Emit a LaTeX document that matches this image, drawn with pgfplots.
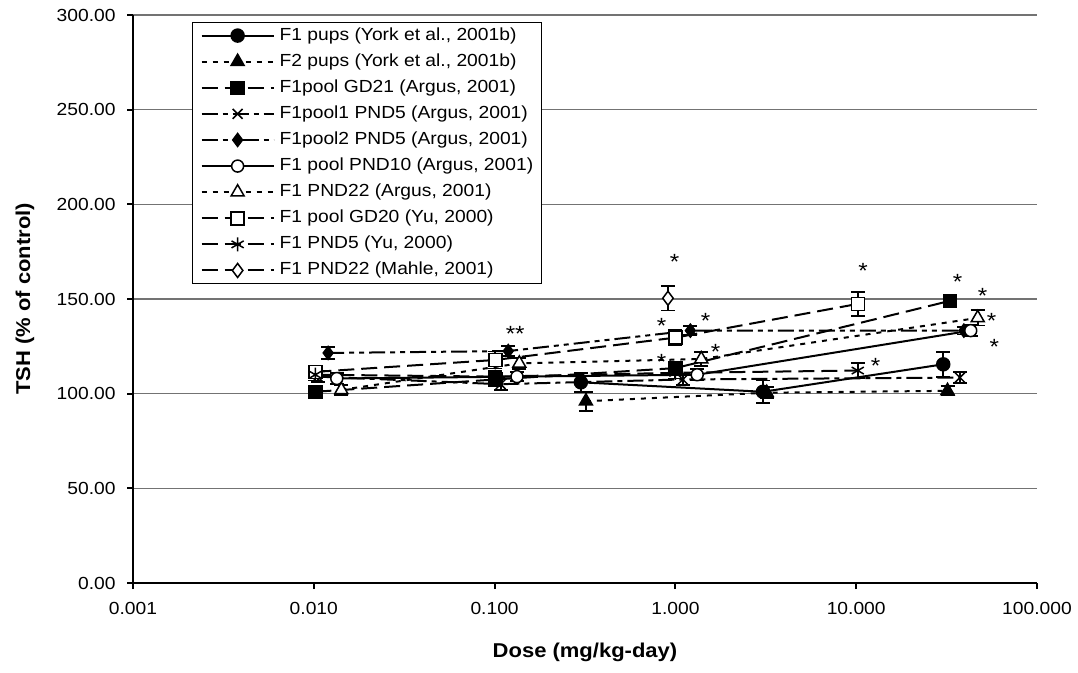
\documentclass[border=0pt]{standalone}
\usepackage{fontspec}
\setmainfont{Liberation Sans}[FakeStretch=1.1]
\usepackage{pgfplots}
\pgfplotsset{compat=1.18}
\newcommand\tfont{\fontsize{17.5bp}{20bp}\selectfont}
\newcommand\sfont{\fontsize{22bp}{24bp}\selectfont}
\newcommand\lfont{\fontsize{20bp}{24bp}\selectfont\bfseries}
\pgfplotsset{
  ser/.style={black, line width=2bp,
    mark options={solid, line width=1.5bp, fill=black},
    error bars/y dir=both, error bars/y explicit,
    error bars/error bar style={line width=1.8bp, solid},
    error bars/error mark options={rotate=90, mark size=7bp, line width=1.8bp, solid}},
  openm/.style={mark options={solid, line width=1.5bp, fill=white}},
  longdash/.style={dash pattern=on 16bp off 7bp},
  shortdot/.style={dash pattern=on 5bp off 6bp},
  dashdot/.style={dash pattern=on 16bp off 5bp on 5bp off 5bp},
  dashdotdot/.style={dash pattern=on 16bp off 5bp on 5bp off 5bp on 5bp off 5bp},
}
\begin{document}
\begin{tikzpicture}
\path[use as bounding box] (0,0) rectangle (1078bp,673bp);
\begin{axis}[
  at={(133bp,90bp)}, anchor=south west,
  width=904bp, height=568bp, scale only axis,
  xmode=log, xmin=0.001, xmax=100, ymin=0, ymax=300,
  xtick={0.001,0.01,0.1,1,10,100},
  xticklabels={0.001,0.010,0.100,1.000,10.000,100.000},
  xminorticks=false,
  ytick={0,50,100,150,200,250,300},
  yticklabels={0.00,50.00,100.00,150.00,200.00,250.00,300.00},
  ymajorgrids, grid style={line width=1.2bp, color=black!55},
  axis x line*=bottom, axis y line*=left,
  axis line style={line width=2.8bp, -},
  tick style={line width=2bp, black},
  tick align=outside, major tick length=6bp,
  tick label style={font=\tfont},
  xticklabel style={yshift=-10bp},
  yticklabel style={xshift=-8bp},
  every axis x label/.style={at={(axis description cs:0.5,0)}, yshift=-69bp, anchor=center},
  every axis y label/.style={at={(axis description cs:0,0.5)}, xshift=-108bp, rotate=90, anchor=center},
  label style={font=\lfont},
  xlabel={Dose (mg/kg-day)}, ylabel={TSH (\% of control)},
  clip=false,
  legend style={at={(0.0653,0.9877)}, anchor=north west, draw=black, line width=1.2bp,
    fill=white, font=\tfont, inner xsep=8bp, inner ysep=4.5bp, row sep=9.1bp,
    nodes={inner sep=0pt, text height=13bp, text depth=4bp},
    /tikz/every odd column/.append style={column sep=5bp}},
  legend cell align=left,
  legend image code/.code={\draw[mark repeat=2,mark phase=2,#1] plot coordinates {(0bp,0bp) (36bp,0bp) (72bp,0bp)};},
]
% F1 pups (York)
\addplot[ser, solid, mark=*, mark size=6.5bp] coordinates {
(0.30,106) +- (0,5)
(3.05,101) +- (0,6)
(30.3,115.5) +- (0,6.5)
};
\addlegendentry{F1 pups (York et al., 2001b)}
% F2 pups (York)
\addplot[ser, shortdot, mark=triangle*, mark size=7.5bp] coordinates {
(0.32,96) +- (0,5)
(3.2,100.5) +- (0,3)
(32,101.5) +- (0,2.5)
};
\addlegendentry{F2 pups (York et al., 2001b)}
% F1pool GD21 (Argus)
\addplot[ser, longdash, mark=square*, mark size=6.5bp] coordinates {
(0.0102,101) +- (0,2)
(0.101,107.5) +- (0,3)
(1.0,113.5) +- (0,3)
(33,149) +- (0,2)
};
\addlegendentry{F1pool GD21 (Argus, 2001)}
% F1pool1 PND5 (Argus)
\addplot[ser, dashdot, mark=x, mark size=7bp] coordinates {
(0.0105,109) +- (0,3)
(0.108,105) +- (0,3)
(1.1,107.5) +- (0,3)
(37.5,108.5) +- (0,3)
};
\addlegendentry{F1pool1 PND5 (Argus, 2001)}
% F1pool2 PND5 (Argus)
\addplot[ser, dashdotdot, mark=diamond*, mark size=6.5bp] coordinates {
(0.012,121.5) +- (0,3)
(0.119,122.5) +- (0,2.5)
(1.21,133.3) +- (0,2.5)
(39.4,133.3) +- (0,2)
};
\addlegendentry{F1pool2 PND5 (Argus, 2001)}
% F1 pool PND10 (Argus)
\addplot[ser, solid, openm, mark=*, mark size=6bp] coordinates {
(0.0134,108) +- (0,3)
(0.133,109) +- (0,2.5)
(1.32,110) +- (0,3)
(43,133.3) +- (0,3)
};
\addlegendentry{F1 pool PND10 (Argus, 2001)}
% F1 PND22 (Argus)
\addplot[ser, shortdot, openm, mark=triangle*, mark size=7.5bp] coordinates {
(0.0142,102) +- (0,2.5)
(0.137,116) +- (0,3)
(1.39,118.3) +- (0,3.5)
(47,140) +- (0,4)
};
\addlegendentry{F1 PND22 (Argus, 2001)}
% F1 pool GD20 (Yu)
\addplot[ser, longdash, openm, mark=square*, mark size=6.5bp] coordinates {
(0.0102,111.5) +- (0,3)
(0.101,117.8) +- (0,4.5)
(1.0,129.6) +- (0,4)
(10.2,147.4) +- (0,6.5)
};
\addlegendentry{F1 pool GD20 (Yu, 2000)}
% F1 PND5 (Yu)
\addplot[ser, longdash, mark=asterisk, mark size=7bp] coordinates {
(0.0102,110) +- (0,3)
(0.101,109) +- (0,3)
(1.0,111) +- (0,3)
(10.2,112.2) +- (0,4)
};
\addlegendentry{F1 PND5 (Yu, 2000)}
% F1 PND22 (Mahle)
\addplot[ser, longdash, openm, mark=diamond*, mark size=7bp] coordinates {
(0.91,150.4) +- (0,6.5)
};
\addlegendentry{F1 PND22 (Mahle, 2001)}
% significance stars
\addplot[only marks, mark=none, forget plot, point meta=explicit symbolic,
  nodes near coords, every node near coord/.append style={anchor=center, inner sep=0pt, font=\sfont}]
coordinates {
(0.13,131.5)[**]
(0.99,169.5)[*]
(0.84,136)[*]
(1.47,138.2)[*]
(0.84,117)[*]
(1.67,121.8)[*]
(10.9,165)[*]
(12.8,114.4)[*]
(36.4,159)[*]
(50,151.5)[*]
(56,138.5)[*]
(58,124.5)[*]
};
\end{axis}
\end{tikzpicture}
\end{document}
